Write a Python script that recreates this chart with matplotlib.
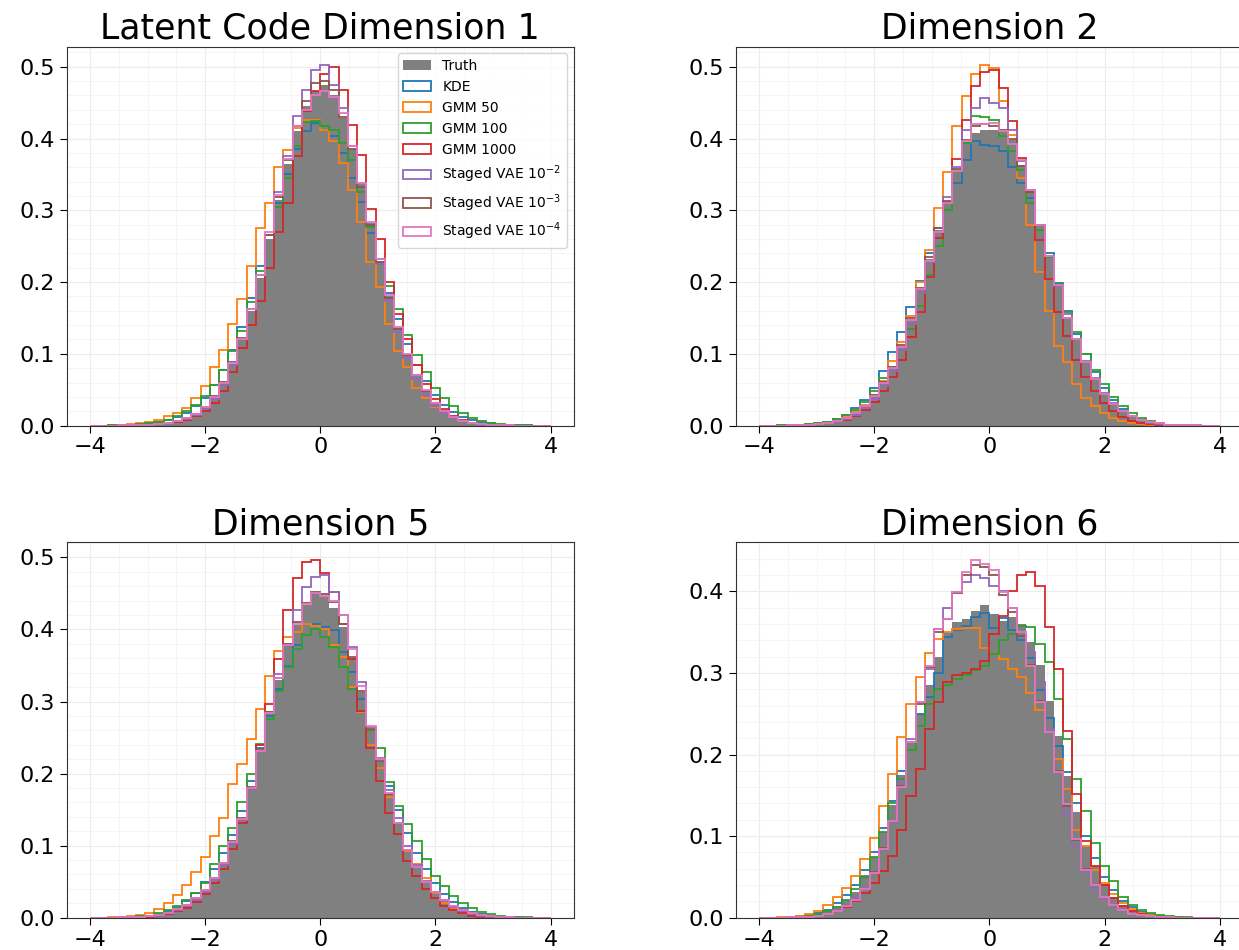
import numpy as np
import matplotlib
matplotlib.use("Agg")
import matplotlib.pyplot as plt

# Histogram bins shared by every panel
bin_lo, bin_hi, n_bins = -4.0, 4.0, 50

series_labels = ["KDE", "GMM 50", "GMM 100", "GMM 1000",
                 r"Staged VAE $10^{-2}$", r"Staged VAE $10^{-3}$", r"Staged VAE $10^{-4}$"]
series_colors = ["C0", "C1", "C2", "C3", "C4", "C5", "C6"]
panel_titles = ["Latent Code Dimension 1", "Dimension 2", "Dimension 5", "Dimension 6"]

# ---------------- Dimension 1 ----------------
truth_d1 = [0, 0, 0, 0.0003, 0.0005, 0.0009, 0.0014, 0.002, 0.0035, 0.006,
            0.010, 0.016, 0.026, 0.040, 0.060, 0.086, 0.120, 0.160, 0.205, 0.260,
            0.315, 0.365, 0.410, 0.445, 0.466, 0.474, 0.461, 0.428, 0.385, 0.336,
            0.282, 0.230, 0.180, 0.137, 0.100, 0.071, 0.049, 0.032, 0.020, 0.012,
            0.007, 0.004, 0.002, 0.001, 0.0006, 0.0003, 0.0001, 0, 0, 0]
kde_d1 = [0, 0, 0.0002, 0.0005, 0.001, 0.0018, 0.003, 0.005, 0.008, 0.012,
          0.018, 0.027, 0.039, 0.056, 0.078, 0.105, 0.138, 0.178, 0.222, 0.266,
          0.310, 0.350, 0.385, 0.410, 0.422, 0.418, 0.403, 0.380, 0.345, 0.312,
          0.268, 0.225, 0.185, 0.148, 0.114, 0.085, 0.062, 0.043, 0.029, 0.019,
          0.012, 0.008, 0.005, 0.003, 0.0015, 0.0008, 0.0004, 0.0002, 0, 0]
gmm50_d1 = [0, 0, 0.0005, 0.001, 0.002, 0.003, 0.005, 0.008, 0.013, 0.018,
            0.025, 0.039, 0.055, 0.081, 0.106, 0.141, 0.177, 0.223, 0.275, 0.310,
            0.361, 0.384, 0.415, 0.426, 0.426, 0.412, 0.396, 0.366, 0.328, 0.284,
            0.228, 0.193, 0.141, 0.104, 0.081, 0.053, 0.038, 0.026, 0.017, 0.010,
            0.006, 0.004, 0.002, 0.001, 0.0005, 0.0002, 0, 0, 0, 0]
gmm100_d1 = [0, 0, 0.0003, 0.0006, 0.001, 0.002, 0.003, 0.005, 0.008, 0.013,
             0.020, 0.029, 0.041, 0.057, 0.078, 0.104, 0.132, 0.172, 0.215, 0.265,
             0.305, 0.345, 0.390, 0.423, 0.425, 0.417, 0.412, 0.394, 0.370, 0.326,
             0.277, 0.232, 0.195, 0.162, 0.126, 0.098, 0.075, 0.053, 0.039, 0.027,
             0.018, 0.011, 0.006, 0.004, 0.002, 0.001, 0.0005, 0.0002, 0, 0]
gmm1000_d1 = [0, 0, 0, 0.0002, 0.0004, 0.0008, 0.0012, 0.002, 0.003, 0.005,
              0.008, 0.013, 0.020, 0.032, 0.048, 0.075, 0.108, 0.140, 0.174, 0.220,
              0.270, 0.310, 0.375, 0.438, 0.466, 0.490, 0.499, 0.467, 0.419, 0.377,
              0.302, 0.260, 0.200, 0.155, 0.120, 0.085, 0.058, 0.037, 0.023, 0.014,
              0.008, 0.004, 0.002, 0.001, 0.0005, 0.0002, 0, 0, 0, 0]
vae2_d1 = [0, 0, 0, 0.0002, 0.0004, 0.0008, 0.0013, 0.002, 0.0035, 0.006,
           0.009, 0.015, 0.024, 0.037, 0.057, 0.085, 0.120, 0.162, 0.210, 0.265,
           0.325, 0.376, 0.431, 0.468, 0.496, 0.503, 0.475, 0.443, 0.390, 0.338,
           0.280, 0.225, 0.174, 0.130, 0.094, 0.065, 0.043, 0.028, 0.017, 0.010,
           0.006, 0.003, 0.0015, 0.0008, 0.0004, 0.0002, 0, 0, 0, 0]
vae3_d1 = [0, 0, 0, 0.0003, 0.0005, 0.0009, 0.0014, 0.002, 0.0035, 0.006,
           0.010, 0.016, 0.026, 0.041, 0.061, 0.088, 0.122, 0.163, 0.210, 0.266,
           0.318, 0.370, 0.418, 0.452, 0.477, 0.480, 0.468, 0.430, 0.385, 0.333,
           0.280, 0.228, 0.178, 0.135, 0.099, 0.070, 0.048, 0.031, 0.020, 0.012,
           0.007, 0.004, 0.002, 0.001, 0.0006, 0.0003, 0.0001, 0, 0, 0]
vae4_d1 = [0, 0, 0, 0.0003, 0.0005, 0.0009, 0.0014, 0.002, 0.0035, 0.006,
           0.010, 0.016, 0.026, 0.040, 0.060, 0.087, 0.121, 0.162, 0.210, 0.270,
           0.322, 0.372, 0.418, 0.440, 0.460, 0.466, 0.458, 0.435, 0.390, 0.338,
           0.283, 0.232, 0.182, 0.138, 0.100, 0.071, 0.049, 0.032, 0.020, 0.012,
           0.007, 0.004, 0.002, 0.001, 0.0006, 0.0003, 0.0001, 0, 0, 0]

# ---------------- Dimension 2 ----------------
truth_d2 = [0, 0, 0, 0.0003, 0.0006, 0.001, 0.002, 0.004, 0.007, 0.011,
            0.018, 0.027, 0.041, 0.060, 0.080, 0.111, 0.148, 0.190, 0.232, 0.272,
            0.310, 0.356, 0.395, 0.408, 0.412, 0.412, 0.410, 0.398, 0.363, 0.325,
            0.279, 0.235, 0.195, 0.148, 0.120, 0.088, 0.064, 0.043, 0.029, 0.020,
            0.013, 0.008, 0.005, 0.003, 0.0015, 0.0008, 0.0004, 0.0002, 0, 0]
kde_d2 = [0, 0, 0.0002, 0.0005, 0.001, 0.002, 0.003, 0.005, 0.009, 0.015,
          0.024, 0.036, 0.053, 0.076, 0.102, 0.131, 0.165, 0.202, 0.240, 0.275,
          0.310, 0.338, 0.370, 0.396, 0.391, 0.389, 0.382, 0.361, 0.338, 0.317,
          0.280, 0.240, 0.198, 0.160, 0.128, 0.100, 0.074, 0.052, 0.036, 0.023,
          0.014, 0.008, 0.005, 0.003, 0.0015, 0.0008, 0.0004, 0.0002, 0, 0]
gmm50_d2 = [0, 0, 0.0002, 0.0005, 0.001, 0.002, 0.003, 0.005, 0.008, 0.013,
            0.020, 0.029, 0.042, 0.062, 0.090, 0.116, 0.153, 0.200, 0.244, 0.303,
            0.354, 0.417, 0.459, 0.490, 0.503, 0.498, 0.452, 0.405, 0.345, 0.279,
            0.214, 0.159, 0.111, 0.088, 0.058, 0.039, 0.027, 0.018, 0.010, 0.006,
            0.004, 0.002, 0.001, 0.0005, 0.0002, 0, 0, 0, 0, 0]
gmm100_d2 = [0, 0, 0.0002, 0.0005, 0.001, 0.002, 0.003, 0.005, 0.009, 0.015,
             0.022, 0.033, 0.048, 0.066, 0.082, 0.105, 0.135, 0.167, 0.210, 0.250,
             0.300, 0.355, 0.394, 0.431, 0.430, 0.426, 0.403, 0.382, 0.356, 0.310,
             0.272, 0.235, 0.197, 0.158, 0.130, 0.100, 0.078, 0.058, 0.040, 0.027,
             0.017, 0.010, 0.006, 0.003, 0.0015, 0.0008, 0.0004, 0.0002, 0, 0]
gmm1000_d2 = [0, 0, 0, 0.0002, 0.0005, 0.001, 0.002, 0.003, 0.005, 0.008,
              0.013, 0.022, 0.033, 0.048, 0.068, 0.092, 0.123, 0.158, 0.207, 0.262,
              0.312, 0.372, 0.426, 0.473, 0.492, 0.496, 0.470, 0.424, 0.373, 0.326,
              0.258, 0.204, 0.158, 0.125, 0.092, 0.068, 0.048, 0.032, 0.020, 0.012,
              0.007, 0.004, 0.002, 0.001, 0.0005, 0.0002, 0, 0, 0, 0]
vae2_d2 = [0, 0, 0, 0.0003, 0.0005, 0.001, 0.002, 0.003, 0.005, 0.009,
           0.015, 0.024, 0.037, 0.055, 0.076, 0.105, 0.142, 0.185, 0.228, 0.270,
           0.318, 0.360, 0.412, 0.443, 0.457, 0.450, 0.443, 0.412, 0.368, 0.328,
           0.279, 0.236, 0.195, 0.155, 0.120, 0.090, 0.066, 0.046, 0.032, 0.021,
           0.013, 0.008, 0.004, 0.002, 0.001, 0.0005, 0.0002, 0, 0, 0]
vae3_d2 = [0, 0, 0, 0.0003, 0.0006, 0.001, 0.002, 0.004, 0.007, 0.011,
           0.018, 0.028, 0.042, 0.061, 0.082, 0.112, 0.150, 0.192, 0.235, 0.275,
           0.313, 0.358, 0.398, 0.418, 0.420, 0.418, 0.412, 0.400, 0.362, 0.326,
           0.280, 0.236, 0.196, 0.150, 0.121, 0.089, 0.065, 0.044, 0.030, 0.020,
           0.013, 0.008, 0.005, 0.003, 0.0015, 0.0008, 0.0004, 0.0002, 0, 0]
vae4_d2 = [0, 0, 0, 0.0003, 0.0006, 0.001, 0.002, 0.004, 0.007, 0.011,
           0.018, 0.027, 0.041, 0.060, 0.080, 0.110, 0.147, 0.190, 0.230, 0.270,
           0.310, 0.355, 0.396, 0.420, 0.420, 0.421, 0.410, 0.392, 0.370, 0.328,
           0.280, 0.236, 0.196, 0.150, 0.121, 0.089, 0.065, 0.044, 0.030, 0.020,
           0.013, 0.008, 0.005, 0.003, 0.0015, 0.0008, 0.0004, 0.0002, 0, 0]

# ---------------- Dimension 5 ----------------
truth_d5 = [0, 0, 0, 0.0003, 0.0006, 0.001, 0.002, 0.004, 0.007, 0.012,
            0.019, 0.028, 0.039, 0.056, 0.077, 0.107, 0.139, 0.181, 0.233, 0.284,
            0.330, 0.378, 0.406, 0.434, 0.451, 0.446, 0.430, 0.404, 0.360, 0.313,
            0.262, 0.218, 0.172, 0.132, 0.095, 0.072, 0.051, 0.037, 0.026, 0.017,
            0.011, 0.007, 0.004, 0.002, 0.001, 0.0005, 0.0002, 0, 0, 0]
kde_d5 = [0, 0, 0.0002, 0.0005, 0.001, 0.002, 0.003, 0.005, 0.009, 0.015,
          0.023, 0.034, 0.050, 0.068, 0.090, 0.115, 0.148, 0.190, 0.235, 0.280,
          0.318, 0.350, 0.378, 0.408, 0.407, 0.403, 0.399, 0.369, 0.341, 0.304,
          0.260, 0.220, 0.183, 0.150, 0.118, 0.090, 0.068, 0.048, 0.033, 0.022,
          0.014, 0.008, 0.005, 0.003, 0.0015, 0.0008, 0.0004, 0.0002, 0, 0]
gmm50_d5 = [0, 0, 0.0005, 0.001, 0.002, 0.004, 0.007, 0.012, 0.020, 0.032,
            0.045, 0.063, 0.084, 0.113, 0.139, 0.185, 0.213, 0.248, 0.290, 0.336,
            0.370, 0.390, 0.396, 0.408, 0.405, 0.400, 0.378, 0.362, 0.320, 0.285,
            0.239, 0.208, 0.167, 0.132, 0.092, 0.074, 0.055, 0.034, 0.020, 0.013,
            0.008, 0.005, 0.003, 0.0015, 0.0008, 0.0004, 0.0002, 0, 0, 0]
gmm100_d5 = [0, 0, 0.0002, 0.0005, 0.001, 0.002, 0.003, 0.006, 0.010, 0.016,
             0.024, 0.034, 0.048, 0.074, 0.099, 0.125, 0.160, 0.200, 0.241, 0.276,
             0.315, 0.348, 0.373, 0.392, 0.401, 0.390, 0.376, 0.348, 0.318, 0.287,
             0.260, 0.236, 0.188, 0.155, 0.130, 0.106, 0.081, 0.058, 0.044, 0.030,
             0.020, 0.013, 0.008, 0.005, 0.003, 0.0015, 0.0008, 0.0004, 0, 0]
gmm1000_d5 = [0, 0, 0, 0.0002, 0.0004, 0.0008, 0.0015, 0.003, 0.005, 0.009,
              0.014, 0.022, 0.033, 0.048, 0.068, 0.095, 0.132, 0.178, 0.239, 0.297,
              0.359, 0.427, 0.471, 0.494, 0.496, 0.479, 0.452, 0.408, 0.359, 0.287,
              0.236, 0.190, 0.146, 0.116, 0.078, 0.058, 0.040, 0.027, 0.016, 0.010,
              0.006, 0.003, 0.0015, 0.0008, 0.0004, 0.0002, 0, 0, 0, 0]
vae2_d5 = [0, 0, 0, 0.0002, 0.0005, 0.001, 0.002, 0.003, 0.006, 0.010,
           0.016, 0.024, 0.035, 0.052, 0.073, 0.102, 0.135, 0.178, 0.232, 0.285,
           0.338, 0.380, 0.427, 0.459, 0.473, 0.475, 0.452, 0.420, 0.376, 0.327,
           0.264, 0.222, 0.177, 0.138, 0.100, 0.073, 0.051, 0.035, 0.023, 0.015,
           0.009, 0.005, 0.003, 0.0015, 0.0008, 0.0004, 0.0002, 0, 0, 0]
vae3_d5 = [0, 0, 0, 0.0003, 0.0006, 0.001, 0.002, 0.004, 0.007, 0.012,
           0.018, 0.027, 0.038, 0.055, 0.076, 0.106, 0.139, 0.181, 0.234, 0.286,
           0.333, 0.380, 0.410, 0.437, 0.452, 0.449, 0.438, 0.408, 0.362, 0.314,
           0.262, 0.218, 0.171, 0.131, 0.094, 0.071, 0.050, 0.036, 0.025, 0.016,
           0.010, 0.006, 0.004, 0.002, 0.001, 0.0005, 0.0002, 0, 0, 0]
vae4_d5 = [0, 0, 0, 0.0003, 0.0006, 0.001, 0.002, 0.004, 0.007, 0.012,
           0.018, 0.027, 0.038, 0.055, 0.076, 0.105, 0.137, 0.180, 0.232, 0.284,
           0.332, 0.378, 0.408, 0.436, 0.450, 0.446, 0.440, 0.420, 0.373, 0.322,
           0.266, 0.220, 0.173, 0.132, 0.094, 0.071, 0.050, 0.036, 0.025, 0.016,
           0.010, 0.006, 0.004, 0.002, 0.001, 0.0005, 0.0002, 0, 0, 0]

# ---------------- Dimension 6 ----------------
truth_d6 = [0, 0, 0, 0.0003, 0.0008, 0.002, 0.004, 0.008, 0.014, 0.022,
            0.032, 0.052, 0.075, 0.105, 0.138, 0.175, 0.215, 0.250, 0.285, 0.320,
            0.350, 0.362, 0.366, 0.376, 0.383, 0.372, 0.364, 0.368, 0.360, 0.338,
            0.310, 0.265, 0.223, 0.174, 0.129, 0.088, 0.063, 0.041, 0.025, 0.015,
            0.009, 0.005, 0.003, 0.001, 0.0005, 0.0002, 0, 0, 0, 0]
kde_d6 = [0, 0, 0.0002, 0.0005, 0.0015, 0.003, 0.006, 0.010, 0.018, 0.028,
          0.040, 0.058, 0.080, 0.110, 0.143, 0.180, 0.215, 0.250, 0.270, 0.300,
          0.344, 0.352, 0.357, 0.369, 0.373, 0.355, 0.367, 0.353, 0.340, 0.318,
          0.279, 0.245, 0.210, 0.178, 0.140, 0.100, 0.073, 0.050, 0.034, 0.021,
          0.013, 0.007, 0.004, 0.002, 0.001, 0.0005, 0.0002, 0, 0, 0]
gmm50_d6 = [0, 0, 0.0005, 0.001, 0.002, 0.004, 0.008, 0.016, 0.025, 0.037,
            0.051, 0.072, 0.098, 0.137, 0.176, 0.221, 0.262, 0.295, 0.325, 0.342,
            0.350, 0.354, 0.355, 0.355, 0.330, 0.323, 0.317, 0.305, 0.295, 0.276,
            0.254, 0.227, 0.194, 0.158, 0.108, 0.088, 0.059, 0.043, 0.029, 0.018,
            0.011, 0.006, 0.003, 0.0015, 0.0008, 0.0004, 0.0002, 0, 0, 0]
gmm100_d6 = [0, 0, 0.0002, 0.0005, 0.001, 0.002, 0.004, 0.008, 0.013, 0.022,
             0.035, 0.050, 0.075, 0.105, 0.140, 0.170, 0.205, 0.235, 0.262, 0.280,
             0.285, 0.293, 0.297, 0.303, 0.309, 0.323, 0.340, 0.348, 0.358, 0.356,
             0.336, 0.313, 0.268, 0.219, 0.170, 0.131, 0.092, 0.063, 0.045, 0.025,
             0.016, 0.010, 0.006, 0.003, 0.0015, 0.0008, 0.0004, 0.0002, 0, 0]
gmm1000_d6 = [0, 0, 0, 0.0002, 0.0005, 0.001, 0.002, 0.004, 0.008, 0.013,
              0.020, 0.030, 0.043, 0.057, 0.076, 0.108, 0.149, 0.182, 0.231, 0.264,
              0.289, 0.297, 0.300, 0.305, 0.315, 0.348, 0.370, 0.400, 0.420, 0.424,
              0.407, 0.356, 0.305, 0.229, 0.151, 0.094, 0.063, 0.040, 0.024, 0.014,
              0.008, 0.004, 0.002, 0.001, 0.0005, 0.0002, 0, 0, 0, 0]
vae2_d6 = [0, 0, 0, 0.0003, 0.0006, 0.0012, 0.002, 0.005, 0.009, 0.015,
           0.024, 0.036, 0.055, 0.086, 0.117, 0.166, 0.219, 0.264, 0.305, 0.354,
           0.379, 0.399, 0.411, 0.420, 0.416, 0.407, 0.401, 0.379, 0.346, 0.326,
           0.289, 0.231, 0.178, 0.127, 0.088, 0.057, 0.037, 0.023, 0.014, 0.008,
           0.005, 0.003, 0.0015, 0.0008, 0.0004, 0.0002, 0, 0, 0, 0]
vae3_d6 = [0, 0, 0, 0.0003, 0.0006, 0.0012, 0.002, 0.004, 0.008, 0.014,
           0.022, 0.035, 0.056, 0.085, 0.118, 0.162, 0.215, 0.262, 0.307, 0.350,
           0.366, 0.398, 0.420, 0.432, 0.430, 0.420, 0.395, 0.375, 0.345, 0.310,
           0.266, 0.228, 0.180, 0.137, 0.095, 0.060, 0.040, 0.025, 0.015, 0.009,
           0.005, 0.003, 0.0015, 0.0008, 0.0004, 0.0002, 0, 0, 0, 0]
vae4_d6 = [0, 0, 0, 0.0003, 0.0006, 0.0012, 0.002, 0.004, 0.008, 0.014,
           0.022, 0.035, 0.055, 0.084, 0.119, 0.160, 0.215, 0.264, 0.309, 0.354,
           0.366, 0.399, 0.424, 0.438, 0.434, 0.426, 0.399, 0.379, 0.350, 0.309,
           0.264, 0.227, 0.178, 0.139, 0.096, 0.059, 0.040, 0.025, 0.015, 0.009,
           0.005, 0.003, 0.0015, 0.0008, 0.0004, 0.0002, 0, 0, 0, 0]

panels = [
    (truth_d1, [kde_d1, gmm50_d1, gmm100_d1, gmm1000_d1, vae2_d1, vae3_d1, vae4_d1]),
    (truth_d2, [kde_d2, gmm50_d2, gmm100_d2, gmm1000_d2, vae2_d2, vae3_d2, vae4_d2]),
    (truth_d5, [kde_d5, gmm50_d5, gmm100_d5, gmm1000_d5, vae2_d5, vae3_d5, vae4_d5]),
    (truth_d6, [kde_d6, gmm50_d6, gmm100_d6, gmm1000_d6, vae2_d6, vae3_d6, vae4_d6]),
]

edges = np.linspace(bin_lo, bin_hi, n_bins + 1)
centers = 0.5 * (edges[:-1] + edges[1:])

fig = plt.figure(figsize=(12.39, 9.5), dpi=100)
fig.patch.set_facecolor("white")

# axes rectangles in figure fractions: left, bottom, width, height
rects = [
    (0.054, 0.552, 0.409, 0.399),
    (0.594, 0.552, 0.409, 0.399),
    (0.054, 0.034, 0.409, 0.395),
    (0.594, 0.034, 0.409, 0.395),
]

for k, ((truth, models), rect, title) in enumerate(zip(panels, rects, panel_titles)):
    ax = fig.add_axes(rect)
    ax.set_axisbelow(True)
    ax.minorticks_on()
    ax.grid(True, which="major", color="#ececec", lw=0.8)
    ax.grid(True, which="minor", color="#f4f4f4", lw=0.6)
    ax.hist(centers, bins=edges, weights=truth, histtype="stepfilled",
            color="gray", label="Truth")
    for vals, lab, col in zip(models, series_labels, series_colors):
        ax.hist(centers, bins=edges, weights=vals, histtype="step",
                color=col, lw=1.3, label=lab)
    ax.set_title(title, fontsize=25)
    ax.set_xticks([-4, -2, 0, 2, 4])
    ax.tick_params(axis="both", which="major", labelsize=16, length=5)
    ax.tick_params(axis="both", which="minor", length=0)
    for sp in ax.spines.values():
        sp.set_color("#333333")
    if k == 0:
        ax.legend(loc="upper right", fontsize=10)

fig.savefig("out.png", dpi=100)
